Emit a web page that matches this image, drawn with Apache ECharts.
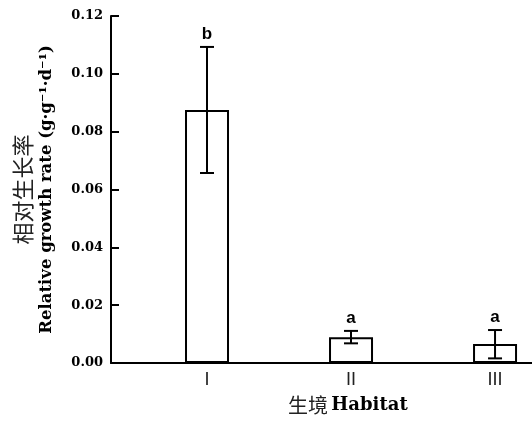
<!DOCTYPE html>
<html>
<head>
<meta charset="utf-8">
<script src="https://cdn.jsdelivr.net/npm/echarts@6/dist/echarts.min.js"></script>
<style>
  html, body { margin: 0; padding: 0; background: #fff; }
  #chart { width: 532px; height: 421px; }
</style>
</head>
<body>
<div id="chart"></div>
<script>
// data
var categories = ['I', 'II', 'III'];
var means = [0.0875, 0.0089, 0.0066];
var errLow = [0.0657, 0.0068, 0.0016];
var errHigh = [0.1093, 0.0111, 0.0114];
var letters = ['b', 'a', 'a'];
var yTicks = [0, 0.02, 0.04, 0.06, 0.08, 0.10, 0.12];

// each habitat sits at 2, 5, 8 on a hidden numeric x scale
var catPos = categories.map(function (c, i) { return 2 + 3 * i; });

var myChart = echarts.init(document.getElementById('chart'));

var serif = 'DejaVu Serif';

var option = {
  animation: false,
  grid: { left: 111, right: 0, top: 16, bottom: 58 },
  xAxis: {
    type: 'value',
    min: 0,
    max: 8.77,
    interval: 1,
    splitLine: { show: false },
    axisTick: { show: false },
    axisLine: { lineStyle: { color: '#000', width: 2 } },
    axisLabel: {
      showMinLabel: true,
      showMaxLabel: false,
      margin: 8,
      fontFamily: 'Liberation Sans',
      fontSize: 18,
      color: '#222',
      formatter: function (v) {
        var i = catPos.indexOf(Math.round(v));
        return (i >= 0 && Math.abs(v - catPos[i]) < 1e-6) ? categories[i] : '';
      }
    }
  },
  yAxis: {
    type: 'value',
    min: yTicks[0],
    max: yTicks[yTicks.length - 1],
    interval: 0.02,
    splitLine: { show: false },
    axisLine: { show: true, lineStyle: { color: '#000', width: 2 } },
    axisTick: { show: true, inside: true, length: 8, lineStyle: { color: '#000', width: 2 } },
    axisLabel: {
      margin: 8,
      fontFamily: serif,
      fontWeight: 'bold',
      fontSize: 13,
      color: '#000',
      formatter: function (v) { return v.toFixed(2); }
    },
    name: '{cn|相对生长率}\n{en|Relative growth rate (g·g⁻¹·d⁻¹)}',
    nameLocation: 'middle',
    nameRotate: 90,
    nameGap: 54,
    nameTextStyle: {
      rich: {
        cn: { fontFamily: 'Noto Sans CJK SC', fontSize: 22, color: '#222', lineHeight: 29 },
        en: { fontFamily: serif, fontWeight: 'bold', fontSize: 16.5, color: '#000', lineHeight: 20 }
      }
    }
  },
  graphic: [{
    type: 'text',
    left: 288,
    top: 395,
    style: {
      text: '{cn|生境} {en|Habitat}',
      rich: {
        cn: { fontFamily: 'Noto Sans CJK SC', fontSize: 20, fill: '#222' },
        en: { fontFamily: serif, fontWeight: 'bold', fontSize: 18, fill: '#000' }
      }
    }
  }],
  series: [
    {
      type: 'bar',
      barWidth: 44,
      data: catPos.map(function (x, i) { return [x, means[i]]; }),
      itemStyle: { color: '#fff', borderColor: '#000', borderWidth: 2 },
      z: 2
    },
    {
      type: 'custom',
      z: 3,
      data: catPos.map(function (x, i) { return [x, errLow[i], errHigh[i]]; }),
      renderItem: function (params, api) {
        var lo = api.coord([api.value(0), api.value(1)]);
        var hi = api.coord([api.value(0), api.value(2)]);
        var cap = 7;
        var st = { stroke: '#000', lineWidth: 2 };
        return {
          type: 'group',
          children: [
            { type: 'line', shape: { x1: hi[0], y1: hi[1], x2: lo[0], y2: lo[1] }, style: st },
            { type: 'line', shape: { x1: hi[0] - cap, y1: hi[1], x2: hi[0] + cap, y2: hi[1] }, style: st },
            { type: 'line', shape: { x1: lo[0] - cap, y1: lo[1], x2: lo[0] + cap, y2: lo[1] }, style: st },
            {
              type: 'text',
              style: {
                text: letters[params.dataIndex],
                x: hi[0],
                y: hi[1] - 4,
                align: 'center',
                verticalAlign: 'bottom',
                fontFamily: 'Liberation Sans',
                fontWeight: 'bold',
                fontSize: 17,
                fill: '#000'
              }
            }
          ]
        };
      }
    }
  ]
};

myChart.setOption(option);
</script>
</body>
</html>
